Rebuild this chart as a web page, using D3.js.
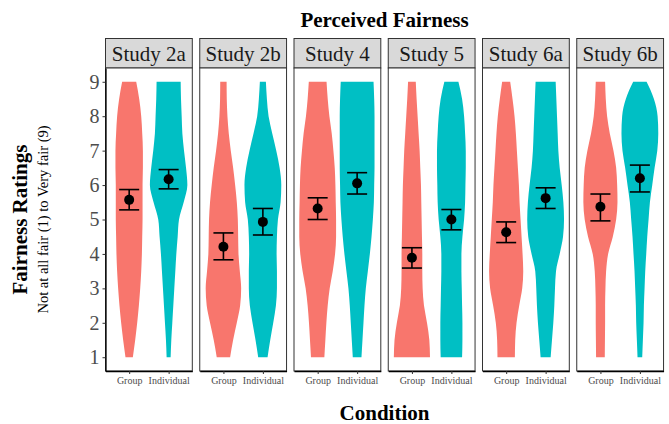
<!DOCTYPE html>
<html>
<head>
<meta charset="utf-8">
<script src="https://cdn.jsdelivr.net/npm/d3@7"></script>
<style>
  html, body { margin: 0; padding: 0; background: #fff; }
  svg { display: block; font-family: "Liberation Serif", "Times New Roman", serif; }
</style>
</head>
<body>
<svg id="chart" width="669" height="424"></svg>
<script>
// Studies (facets) and conditions
const studies = ["Study 2a", "Study 2b", "Study 4", "Study 5", "Study 6a", "Study 6b"];
const conditions = ["Group", "Individual"];
const yTicks = [1, 2, 3, 4, 5, 6, 7, 8, 9];

// Rating grid on which violin densities are given (top to bottom)
const ratingLevels = [9, 8.5, 8, 7.5, 7, 6.5, 6, 5.5, 5, 4.5, 4, 3.5, 3, 2.5, 2, 1.5, 1];

// Relative kernel densities per study, Group condition
const groupDensity = [
  [42, 60, 72, 78, 82, 82, 80, 80, 80, 78, 76, 72, 66, 58, 48, 36, 22],
  [19, 20, 24, 32, 44, 58, 70, 80, 86, 88, 90, 98, 106, 100, 80, 58, 40],
  [53, 60, 70, 84, 94, 102, 106, 108, 110, 110, 104, 90, 72, 60, 52, 46, 40],
  [23, 28, 34, 40, 46, 50, 54, 56, 58, 60, 62, 62, 64, 72, 90, 104, 108],
  [24, 38, 50, 58, 64, 70, 76, 80, 86, 92, 98, 102, 96, 78, 62, 54, 52],
  [28, 32, 40, 56, 78, 94, 100, 102, 94, 74, 46, 34, 30, 28, 28, 27, 26]
];
// Relative kernel densities per study, Individual condition
const individualDensity = [
  [72, 74, 78, 82, 92, 104, 112, 90, 62, 54, 46, 40, 34, 28, 22, 16, 12],
  [18, 24, 34, 56, 80, 100, 110, 106, 90, 84, 82, 84, 84, 78, 62, 44, 28],
  [98, 102, 104, 104, 104, 104, 102, 100, 94, 86, 76, 64, 52, 44, 38, 32, 26],
  [42, 64, 76, 82, 86, 86, 84, 82, 76, 66, 60, 60, 62, 64, 66, 66, 64],
  [60, 64, 68, 72, 76, 84, 96, 106, 110, 104, 84, 62, 56, 52, 46, 38, 30],
  [40, 84, 106, 110, 104, 88, 74, 60, 52, 44, 38, 32, 28, 24, 22, 18, 14]
];

// Means and 95% confidence intervals
const groupMean  = [5.57, 4.21, 5.32, 3.89, 4.63, 5.37];
const groupLow   = [5.28, 3.83, 5.00, 3.59, 4.33, 4.96];
const groupHigh  = [5.87, 4.61, 5.63, 4.18, 4.93, 5.74];
const indivMean  = [6.17, 4.93, 6.05, 5.00, 5.62, 6.20];
const indivLow   = [5.89, 4.55, 5.74, 4.70, 5.32, 5.80];
const indivHigh  = [6.45, 5.32, 6.36, 5.29, 5.92, 6.58];

const fills = { Group: "#F8766D", Individual: "#00BFC4" };

// ---- layout ----
const svg = d3.select("#chart");
const panelLeft = 105.5, panelW = 86.8, panelStep = 94.25;
const panelTop = 68, panelBottom = 371;
const stripTop = 38.5, stripH = 29.5;

const y = d3.scaleLinear().domain([0.6, 9.4]).range([panelBottom, panelTop]);
const facet = d3.scaleBand().domain(studies)
  .range([panelLeft, panelLeft + panelStep * 5 + panelW])
  .paddingInner((panelStep - panelW) / panelStep).paddingOuter(0);
const x = d3.scalePoint().domain(conditions).range([0, facet.bandwidth()]).padding(0.6);
const maxDensity = d3.max([...groupDensity, ...individualDensity].flat());
const halfWidth = d3.scaleLinear().domain([0, maxDensity]).range([0, x.step() * 0.95 / 2]);

// Title
svg.append("text")
  .attr("x", panelLeft + (facet.range()[1] - panelLeft) / 2).attr("y", 27)
  .attr("text-anchor", "middle").attr("font-size", 21).attr("font-weight", "bold")
  .attr("fill", "#000").text("Perceived Fairness");

studies.forEach((s, i) => {
  const g = svg.append("g").attr("transform", `translate(${facet(s)},0)`);

  // strip
  g.append("rect").attr("x", 0).attr("y", stripTop).attr("width", facet.bandwidth())
    .attr("height", stripH).attr("fill", "#D9D9D9").attr("stroke", "#333").attr("stroke-width", 1);
  g.append("text").attr("x", facet.bandwidth() / 2).attr("y", stripTop + stripH / 2)
    .attr("dy", "0.35em").attr("text-anchor", "middle").attr("font-size", 21)
    .attr("fill", "#1a1a1a").text(s);

  // panel background
  g.append("rect").attr("x", 0).attr("y", panelTop).attr("width", facet.bandwidth())
    .attr("height", panelBottom - panelTop).attr("fill", "#fff");

  const series = [
    { cond: "Group", dens: groupDensity[i], mean: groupMean[i], lo: groupLow[i], hi: groupHigh[i] },
    { cond: "Individual", dens: individualDensity[i], mean: indivMean[i], lo: indivLow[i], hi: indivHigh[i] }
  ];

  series.forEach(d => {
    const cx = x(d.cond);
    const pts = ratingLevels.map((r, k) => ({ r, w: halfWidth(d.dens[k]) }));
    const area = d3.area()
      .y(p => y(p.r))
      .x0(p => cx - p.w)
      .x1(p => cx + p.w)
      .curve(d3.curveMonotoneY);
    g.append("path").attr("d", area(pts)).attr("fill", fills[d.cond]);

    // error bar
    const capHalf = 10;
    const eb = g.append("g").attr("stroke", "#000").attr("stroke-width", 1.6).attr("fill", "none");
    eb.append("line").attr("x1", cx).attr("x2", cx).attr("y1", y(d.lo)).attr("y2", y(d.hi));
    eb.append("line").attr("x1", cx - capHalf).attr("x2", cx + capHalf).attr("y1", y(d.lo)).attr("y2", y(d.lo));
    eb.append("line").attr("x1", cx - capHalf).attr("x2", cx + capHalf).attr("y1", y(d.hi)).attr("y2", y(d.hi));
    g.append("circle").attr("cx", cx).attr("cy", y(d.mean)).attr("r", 5).attr("fill", "#000");
  });

  // panel border
  g.append("rect").attr("x", 0).attr("y", panelTop).attr("width", facet.bandwidth())
    .attr("height", panelBottom - panelTop).attr("fill", "none").attr("stroke", "#333").attr("stroke-width", 1);

  // bottom axis
  const xa = g.append("g").attr("transform", `translate(0,${panelBottom})`)
    .call(d3.axisBottom(x).tickSizeInner(3).tickSizeOuter(0).tickPadding(3));
  xa.select(".domain").attr("stroke", "#000").attr("stroke-width", 1.3);
  xa.selectAll(".tick line").attr("stroke", "#333");
  xa.selectAll(".tick text").attr("font-size", 10).attr("fill", "#4d4d4d")
    .attr("font-family", "Liberation Serif, serif");

  if (i === 0) {
    const ya = g.append("g").call(d3.axisLeft(y).tickValues(yTicks).tickFormat(d3.format("d"))
      .tickSizeInner(3).tickSizeOuter(0).tickPadding(3));
    ya.select(".domain").attr("stroke", "#000").attr("stroke-width", 1.3);
    ya.selectAll(".tick line").attr("stroke", "#333");
    ya.selectAll(".tick text").attr("font-size", 20).attr("fill", "#4d4d4d")
      .attr("font-family", "Liberation Serif, serif");
  }
});

// Axis titles
const midY = (panelTop + panelBottom) / 2;
svg.append("text").attr("transform", `translate(27,${midY}) rotate(-90)`)
  .attr("text-anchor", "middle").attr("font-size", 21).attr("font-weight", "bold")
  .attr("fill", "#000").text("Fairness Ratings");
svg.append("text").attr("transform", `translate(48,${midY}) rotate(-90)`)
  .attr("text-anchor", "middle").attr("font-size", 14.5)
  .attr("fill", "#000").text("Not at all fair (1) to Very fair (9)");
svg.append("text").attr("x", panelLeft + (facet.range()[1] - panelLeft) / 2).attr("y", 420)
  .attr("text-anchor", "middle").attr("font-size", 21).attr("font-weight", "bold")
  .attr("fill", "#000").text("Condition");
</script>
</body>
</html>
